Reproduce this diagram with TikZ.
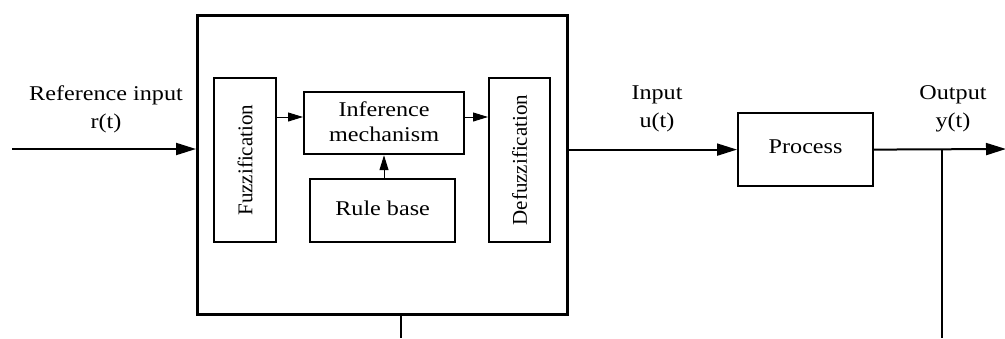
\documentclass[tikz,border=0pt]{standalone}
\usepackage{fontspec}
\setmainfont[FakeStretch=1.15]{Liberation Serif}
\newfontfamily\rotfont{Liberation Serif}
\usetikzlibrary{arrows.meta,calc}
\tikzset{
  blk/.style={draw, line width=2.2pt, anchor=north west, inner sep=0pt},
  lbl/.style={align=center, font=\fontsize{21}{28}\selectfont},
  rotlbl/.style={rotate=90, font=\rotfont\fontsize{21}{25}\selectfont},
  arr/.style={line width=2pt, -{Triangle[length=20pt,width=12pt]}},
  iarr/.style={line width=1pt, -{Triangle[length=15pt,width=9pt]}},
  wire/.style={line width=2pt}
}
\begin{document}
\begin{tikzpicture}[x=1pt,y=-1pt]
\useasboundingbox (0,0) rectangle (1005,338);
% boxes
\node[blk, line width=2.6pt, minimum width=370pt, minimum height=299pt] (big) at (196,14) {};
\node[blk, minimum width=62pt, minimum height=164pt] (fuz) at (213,77) {};
\node[rotlbl] at (fuz.center) {Fuzzification};
\node[blk, minimum width=160pt, minimum height=62pt, align=center,
      font=\fontsize{21}{25}\selectfont] (inf) at (303,91) {\raisebox{3pt}{Inference}\\\raisebox{3pt}{mechanism}};
\node[blk, minimum width=145pt, minimum height=63pt,
      font=\fontsize{21}{25}\selectfont] (rule) at (309,178) {\raisebox{5pt}{Rule base}};
\node[blk, minimum width=61pt, minimum height=164pt] (def) at (488,77) {};
\node[rotlbl] at (def.center) {Defuzzification};
\node[blk, minimum width=135pt, minimum height=73pt,
      font=\fontsize{21}{25}\selectfont] (proc) at (737,112) {\raisebox{6pt}{Process}};
% labels
\node[lbl] (lref) at (106,109) {Reference input\\r(t)};
\node[lbl] (lin) at (657,109) {Input\\u(t)};
\node[lbl] (lout) at (953,109) {Output\\y(t)};
% coordinates
\coordinate (in) at (12,149);
\coordinate (out) at (1005,149);
\coordinate (br) at (942,149);
\coordinate (fbA) at (942,338);
\coordinate (fbB) at (401,338);
% connectors
\draw[arr] (in) -- (in -| big.west);
\draw[arr] (proc.west -| big.east) -- (proc.west);
\draw[arr, shorten >=-1pt] (proc.east) -- (out);
\draw[wire] (br) -- (fbA);
\draw[wire] (fbB |- big.south) -- (fbB);
\draw[iarr] (fuz.east |- 0,117) -- (inf.west |- 0,117);
\draw[iarr] (inf.east |- 0,117) -- (def.west |- 0,117);
\draw[iarr] (rule.north -| 384,0) -- (inf.south -| 384,0);
\end{tikzpicture}
\end{document}
